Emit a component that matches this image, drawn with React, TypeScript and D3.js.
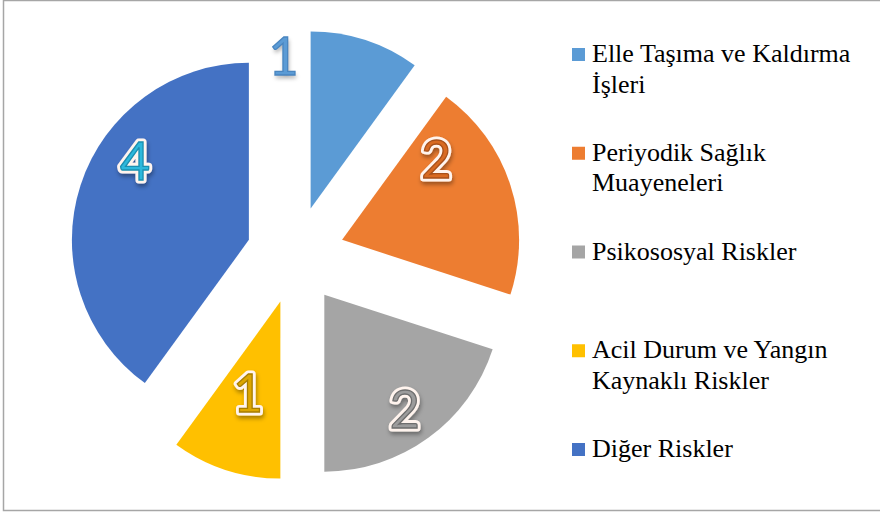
import React from "react";
import * as d3 from "d3";

// Risk categories and the number of findings in each
const categories = [
  "Elle Taşıma ve Kaldırma İşleri",
  "Periyodik Sağlık Muayeneleri",
  "Psikososyal Riskler",
  "Acil Durum ve Yangın Kaynaklı Riskler",
  "Diğer Riskler",
];
const legendLines = [
  ["Elle Taşıma ve Kaldırma", "İşleri"],
  ["Periyodik Sağlık", "Muayeneleri"],
  ["Psikososyal Riskler"],
  ["Acil Durum ve Yangın", "Kaynaklı Riskler"],
  ["Diğer Riskler"],
];
const values = [1, 2, 2, 1, 4];

// Slice colours and the styled value labels
const palette = ["#5B9BD5", "#ED7D31", "#A5A5A5", "#FFC000", "#4472C4"];
const labelFills = ["#5B9BD5", "#D86A22", "#9C9C9C", "#DDA600", "#2DB8DC"];
const labelEdges = ["#4A86C0", "#A8501A", "#6E6E6E", "#A87E00", "#1B8FB0"];
// Label placement: direction (degrees clockwise from 12 o'clock) and distance from the slice tip
const labelAngles = [-10, 49, 144.6, 199.7, 305];
const labelDistances = [156, 125, 139, 96, 139];

const W = 880;
const H = 512;
const cx = 295.5;
const cy = 255;
const radius = 177;
const explode = 49;

export default function App() {
  const pie = d3
    .pie<number>()
    .sort(null)
    .value((d) => d);
  const arcs = pie(values);
  const arc = d3.arc<d3.PieArcDatum<number>>().innerRadius(0).outerRadius(radius);

  const legendX = 572;
  const legendTop = 62;
  const legendStep = 98.75;
  const lineH = 30.5;

  return (
    <div style={{ position: "fixed", left: 0, top: 0 }}>
      <svg width={W} height={H} style={{ display: "block", background: "#fff" }}>
        <defs>
          <filter id="lblShadow" x="-50%" y="-50%" width="200%" height="200%">
            <feDropShadow dx="1" dy="3" stdDeviation="2" floodColor="#000" floodOpacity="0.35" />
          </filter>
        </defs>
        <rect x={3.5} y={0.5} width={W + 4} height={510} fill="#fff" stroke="#A6A6A6" strokeWidth={1.5} />

        {arcs.map((a, i) => {
          const mid = (a.startAngle + a.endAngle) / 2;
          const tx = cx + Math.sin(mid) * explode;
          const ty = cy - Math.cos(mid) * explode;
          return (
            <path key={categories[i]} d={arc(a) || ""} transform={`translate(${tx},${ty})`} fill={palette[i]} />
          );
        })}

        {arcs.map((a, i) => {
          const mid = (a.startAngle + a.endAngle) / 2;
          const tx = cx + Math.sin(mid) * explode;
          const ty = cy - Math.cos(mid) * explode;
          const ang = (labelAngles[i] * Math.PI) / 180;
          const lx = tx + Math.sin(ang) * labelDistances[i];
          const ly = ty - Math.cos(ang) * labelDistances[i];
          const common = {
            x: lx,
            y: ly,
            textAnchor: "middle" as const,
            dominantBaseline: "central" as const,
            style: { fontFamily: '"Lato"', fontSize: 52, fontWeight: 400 },
          };
          return (
            <g key={"lbl" + i}>
              <text
                {...common}
                fill={i === 0 ? labelFills[i] : "#fff"}
                stroke={i === 0 ? "none" : "#FFF4EE"}
                strokeWidth={7}
                strokeLinejoin="round"
                filter="url(#lblShadow)"
              >
                {a.data}
              </text>
              <text {...common} fill={labelFills[i]} stroke={labelEdges[i]} strokeWidth={1.3}>
                {a.data}
              </text>
            </g>
          );
        })}

        {legendLines.map((lines, i) => {
          const base = legendTop + i * legendStep;
          return (
            <g key={"leg" + i}>
              <rect x={legendX} y={base - 14} width={13} height={13} fill={palette[i]} />
              <text x={legendX + 20} y={base} style={{ fontFamily: '"Liberation Serif"', fontSize: 26 }} fill="#000">
                {lines.map((t, j) => (
                  <tspan key={j} x={legendX + 20} y={base + j * lineH}>
                    {t}
                  </tspan>
                ))}
              </text>
            </g>
          );
        })}
      </svg>
    </div>
  );
}
